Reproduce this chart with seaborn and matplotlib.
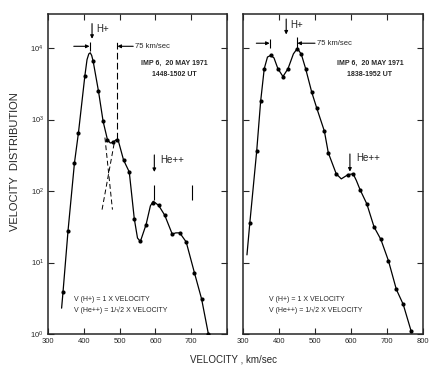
import matplotlib
matplotlib.use('Agg')
import matplotlib.pyplot as plt
import seaborn as sns
import pandas as pd

# measured points, 1448-1502 UT
left_v = [342, 356, 374, 385, 403, 426, 441, 454, 466, 481, 494, 511, 527,
          541, 558, 574, 592, 609, 626, 647, 668, 686, 709, 729, 748]
left_f = [3.9, 28, 250, 650, 4100, 6600, 2500, 940, 525, 480, 525, 272, 185,
          41, 19.7, 34, 68, 63, 46, 25, 26, 19.4, 7.2, 3.1, 1.0]

# hand-drawn fit curve, 1448-1502 UT
left_curve_v = [338, 342, 356, 374, 385, 403, 409, 414, 418, 422, 426, 441, 454,
                466, 474, 481, 490, 496, 511, 527, 541, 550, 558, 574, 586, 594,
                609, 626, 647, 657, 668, 686, 709, 729, 748]
left_curve_f = [2.3, 3.9, 28, 250, 650, 4100, 6900, 8300, 8600, 7900, 6600, 2500,
                940, 525, 470, 480, 520, 515, 272, 185, 41, 22, 19.7, 34, 62, 72,
                63, 46, 25, 26, 26, 19.4, 7.2, 3.1, 1.0]

# dashed decomposition lines (left panel)
h_tail_v = [459, 480]
h_tail_f = [560, 55]
he_rise_v = [485, 451]
he_rise_f = [470, 55]

# measured points, 1838-1952 UT
right_v = [319, 338, 349, 359, 377, 397, 411, 425, 451, 462, 474, 491, 505,
           526, 537, 559, 592, 606, 625, 644, 664, 683, 704, 726, 745, 767]
right_f = [36, 360, 1800, 5150, 7900, 5150, 4000, 5150, 9800, 8200, 5150, 2410,
           1440, 690, 342, 174, 170, 174, 105, 66, 31.5, 21, 10.6, 4.2, 2.6, 1.1]

right_curve_v = [311, 319, 338, 349, 359, 368, 377, 386, 397, 411, 425, 440, 451,
                 462, 474, 491, 505, 526, 537, 559, 573, 592, 606, 615, 625, 644,
                 664, 683, 704, 726, 745, 767]
right_curve_f = [12.8, 36, 360, 1800, 5150, 7500, 7900, 7300, 5150, 4000, 5150,
                 8300, 9900, 8200, 5150, 2410, 1440, 690, 342, 174, 148, 170, 174,
                 140, 105, 66, 31.5, 21, 10.6, 4.2, 2.6, 1.1]

x_ticks = [300, 400, 500, 600, 700, 800]
y_ticks = [1, 10, 100, 1000, 10000]

sns.set_style('ticks')
plt.rcParams['font.family'] = ['Liberation Sans', 'DejaVu Sans']
plt.rcParams['axes.linewidth'] = 1.1

fig = plt.figure(figsize=(4.48, 3.69), dpi=100)
ax1 = fig.add_axes([48 / 448, 35 / 369, 179 / 448, 320 / 369])
ax2 = fig.add_axes([243 / 448, 35 / 369, 180 / 448, 320 / 369])

panels = [
    (ax1, left_v, left_f, left_curve_v, left_curve_f, '1448-1502 UT'),
    (ax2, right_v, right_f, right_curve_v, right_curve_f, '1838-1952 UT'),
]

for ax, v, f, cv, cf, ut in panels:
    curve = pd.DataFrame({'v': cv, 'f': cf})
    pts = pd.DataFrame({'v': v, 'f': f})
    sns.lineplot(data=curve, x='v', y='f', ax=ax, color='black', lw=0.9,
                 sort=False, estimator=None)
    sns.scatterplot(data=pts, x='v', y='f', ax=ax, color='black', s=9,
                    edgecolor='black', linewidth=0, zorder=3)
    ax.set_yscale('log')
    ax.set_xlim(300, 800)
    ax.set_ylim(1, 3e4)
    ax.set_xticks(x_ticks)
    ax.set_yticks(y_ticks)
    ax.minorticks_off()
    ax.tick_params(direction='in', length=4, width=0.8, top=True, right=True,
                   labelsize=5.5, pad=3)
    ax.set_xlabel('')
    ax.set_ylabel('')
    ax.text(0.705, 0.845, 'IMP 6,  20 MAY 1971', transform=ax.transAxes,
            ha='center', va='center', fontsize=5, fontweight='bold')
    ax.text(0.705, 0.81, ut, transform=ax.transAxes,
            ha='center', va='center', fontsize=5, fontweight='bold')
    ax.text(0.145, 0.107, 'V (H+) = 1 X VELOCITY', transform=ax.transAxes,
            ha='left', va='center', fontsize=5)
    ax.text(0.145, 0.075, 'V (He++) = 1/\u221a2 X VELOCITY', transform=ax.transAxes,
            ha='left', va='center', fontsize=5)

ax1.set_xticklabels(['300', '400', '500', '600', '700', ''])
ax2.set_yticklabels([])

arrow = dict(arrowstyle='-|>', color='black', lw=0.8, mutation_scale=5,
             shrinkA=0, shrinkB=0)

# left panel annotations
sns.lineplot(x=h_tail_v, y=h_tail_f, ax=ax1, color='black', lw=0.7,
             linestyle=(0, (5, 3)), estimator=None)
sns.lineplot(x=he_rise_v, y=he_rise_f, ax=ax1, color='black', lw=0.7,
             linestyle=(0, (5, 3)), estimator=None)
ax1.vlines(494, 540, 1.35e4, color='black', lw=0.8, linestyles=(0, (6, 3)))
ax1.annotate('', xy=(423, 1.35e4), xytext=(423, 2.2e4), arrowprops=arrow)
ax1.text(435, 1.85e4, 'H+', fontsize=7, va='center')
ax1.annotate('', xy=(416, 1.06e4), xytext=(372, 1.06e4), arrowprops=arrow)
ax1.vlines(416, 0.92e4, 1.22e4, color='black', lw=0.8)
ax1.annotate('', xy=(494, 1.06e4), xytext=(538, 1.06e4), arrowprops=arrow)
ax1.text(543, 1.06e4, '75 km/sec', fontsize=5.5, va='center')
ax1.annotate('', xy=(597, 185), xytext=(597, 320), arrowprops=arrow)
ax1.text(614, 275, 'He++', fontsize=7, va='center')
ax1.vlines([595, 701], 76, 123, color='black', lw=0.8)

# right panel annotations
ax2.annotate('', xy=(420, 1.55e4), xytext=(420, 2.55e4), arrowprops=arrow)
ax2.text(432, 2.1e4, 'H+', fontsize=7, va='center')
ax2.annotate('', xy=(374, 1.17e4), xytext=(337, 1.17e4), arrowprops=arrow)
ax2.vlines(374, 1.0e4, 1.36e4, color='black', lw=0.8)
ax2.annotate('', xy=(451, 1.17e4), xytext=(500, 1.17e4), arrowprops=arrow)
ax2.vlines(451, 1.0e4, 1.45e4, color='black', lw=0.8)
ax2.text(505, 1.17e4, '75 km/sec', fontsize=5.5, va='center')
ax2.annotate('', xy=(597, 187), xytext=(597, 330), arrowprops=arrow)
ax2.text(614, 290, 'He++', fontsize=7, va='center')

fig.text(15 / 448, 1 - 162 / 369, 'VELOCITY  DISTRIBUTION', rotation=90,
         ha='center', va='center', fontsize=8)
fig.text(233 / 448, 1 - 359 / 369, 'VELOCITY , km/sec', ha='center',
         va='center', fontsize=7)

fig.savefig('out.png', dpi=100, facecolor='white')
